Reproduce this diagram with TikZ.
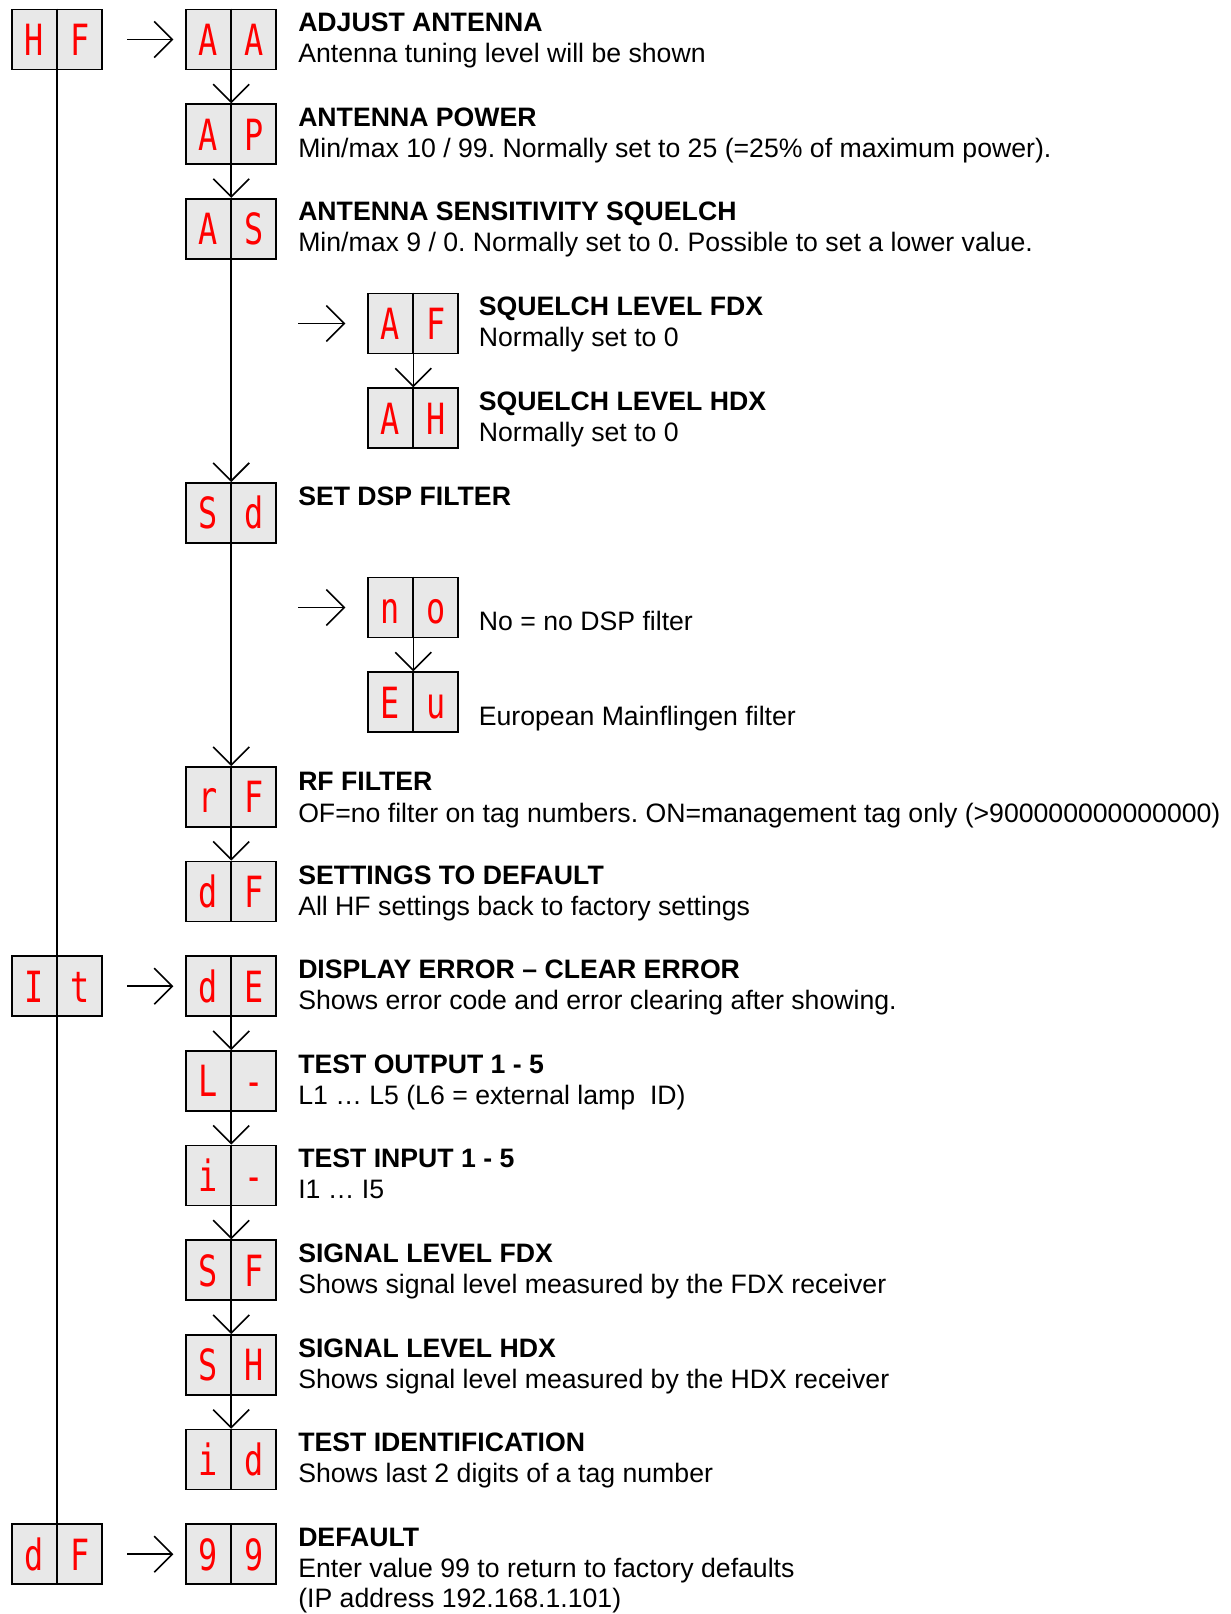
\documentclass[tikz,border=0pt]{standalone}
\usepackage{fontspec}
\setmainfont{Liberation Sans}
\newfontfamily\segfont[FakeStretch=0.74]{DejaVu Sans Mono}
\usetikzlibrary{arrows.meta}
\frenchspacing

\definecolor{boxfill}{RGB}{232,232,232}
\definecolor{segred}{RGB}{255,0,0}

% display box: name, position, left character, right character
\newcommand{\dispbox}[4]{%
  \node[disp] (#1) at (#2) {};
  \draw[divider] (#1.north) -- (#1.south);
  \node[seg] (#1-l) at ([xshift=-22.75pt, yshift=-16pt]#1.center) {#3};
  \node[seg] (#1-r) at ([xshift=22.75pt, yshift=-16pt]#1.center) {#4};
}

\begin{document}
\begin{tikzpicture}[
  x=1pt, y=-1pt,
  font=\fontsize{26.65pt}{31pt}\selectfont,
  disp/.style={draw, fill=boxfill, line width=1.7pt, minimum width=90pt, minimum height=60pt, inner sep=0pt},
  divider/.style={line width=1.7pt},
  seg/.style={anchor=base, inner sep=0pt, text=segred, font=\segfont\fontsize{43pt}{43pt}\selectfont},
  title/.style={anchor=base west, inner sep=0pt, font=\fontsize{26.65pt}{31pt}\selectfont\bfseries},
  desc/.style={anchor=base west, inner sep=0pt},
  arrow/.style={-{Straight Barb[length=18pt, width=36pt]}, line width=1.6pt},
  link/.style={line width=1.6pt}
]
\useasboundingbox (0,0) rectangle (1231,1614);

% left column
\dispbox{hf}{57.2,39.5}{H}{F}
\dispbox{it}{57.2,986.2}{I}{t}
\dispbox{dfl}{57.2,1554.2}{d}{F}

% main column
\dispbox{aa}{231.2,39.5}{A}{A}
\dispbox{ap}{231.2,134.2}{A}{P}
\dispbox{as}{231.2,228.8}{A}{S}
\dispbox{sd}{231.2,512.9}{S}{d}
\dispbox{rf}{231.2,796.9}{r}{F}
\dispbox{df}{231.2,891.5}{d}{F}
\dispbox{de}{231.2,986.2}{d}{E}
\dispbox{lo}{231.2,1080.9}{L}{-}
\dispbox{li}{231.2,1175.5}{i}{-}
\dispbox{sf}{231.2,1270.2}{S}{F}
\dispbox{sh}{231.2,1364.9}{S}{H}
\dispbox{id}{231.2,1459.6}{i}{d}
\dispbox{nn}{231.2,1554.2}{9}{9}

% sub column
\dispbox{af}{413.3,323.5}{A}{F}
\dispbox{ah}{413.3,418.2}{A}{H}
\dispbox{no}{413.3,607.5}{n}{o}
\dispbox{eu}{413.3,702.2}{E}{u}

% left line
\draw[link] (hf.south) -- (it.north);
\draw[link] (it.south) -- (dfl.north);

% horizontal arrows
\draw[arrow] ([xshift=24pt]hf.east) -- ([xshift=-12pt]aa.west);
\draw[arrow] ([xshift=24pt]it.east) -- ([xshift=-12pt]de.west);
\draw[arrow] ([xshift=24pt]dfl.east) -- ([xshift=-12pt]nn.west);
\draw[arrow] ([xshift=-69pt]af.west) -- ([xshift=-22pt]af.west);
\draw[arrow] ([xshift=-69pt]no.west) -- ([xshift=-22pt]no.west);

% vertical arrows
\draw[arrow] (aa.south) -- (ap.north);
\draw[arrow] (ap.south) -- (as.north);
\draw[arrow] (as.south) -- (sd.north);
\draw[arrow] (sd.south) -- (rf.north);
\draw[arrow] (rf.south) -- (df.north);
\draw[arrow] (de.south) -- (lo.north);
\draw[arrow] (lo.south) -- (li.north);
\draw[arrow] (li.south) -- (sf.north);
\draw[arrow] (sf.south) -- (sh.north);
\draw[arrow] (sh.south) -- (id.north);
\draw[arrow] (af.south) -- (ah.north);
\draw[arrow] (no.south) -- (eu.north);

% texts
\node[title] (aa-t) at ([xshift=21pt, yshift=-23pt]aa.north east) {ADJUST ANTENNA};
\node[desc] (aa-d) at ([xshift=21pt, yshift=-54pt]aa.north east) {Antenna tuning level will be shown};
\node[title] (ap-t) at ([xshift=21pt, yshift=-23pt]ap.north east) {ANTENNA POWER};
\node[desc] (ap-d) at ([xshift=21pt, yshift=-54pt]ap.north east) {Min/max 10 / 99. Normally set to 25 (=25\% of maximum power).};
\node[title] (as-t) at ([xshift=21pt, yshift=-23pt]as.north east) {ANTENNA SENSITIVITY SQUELCH};
\node[desc] (as-d) at ([xshift=21pt, yshift=-54pt]as.north east) {Min/max 9 / 0. Normally set to 0. Possible to set a lower value.};
\node[title] (af-t) at ([xshift=19.5pt, yshift=-23pt]af.north east) {SQUELCH LEVEL FDX};
\node[desc] (af-d) at ([xshift=19.5pt, yshift=-54pt]af.north east) {Normally set to 0};
\node[title] (ah-t) at ([xshift=19.5pt, yshift=-23pt]ah.north east) {SQUELCH LEVEL HDX};
\node[desc] (ah-d) at ([xshift=19.5pt, yshift=-54pt]ah.north east) {Normally set to 0};
\node[title] (sd-t) at ([xshift=21pt, yshift=-23pt]sd.north east) {SET DSP FILTER};
\node[desc] (no-d) at ([xshift=19.5pt, yshift=-54pt]no.north east) {No = no DSP filter};
\node[desc] (eu-d) at ([xshift=19.5pt, yshift=-54pt]eu.north east) {European Mainflingen filter};
\node[title] (rf-t) at ([xshift=21pt, yshift=-24pt]rf.north east) {RF FILTER};
\node[desc] (rf-d) at ([xshift=21pt, yshift=-56pt]rf.north east) {OF=no filter on tag numbers. ON=management tag only (>900000000000000)};
\node[title] (df-t) at ([xshift=21pt, yshift=-24pt]df.north east) {SETTINGS TO DEFAULT};
\node[desc] (df-d) at ([xshift=21pt, yshift=-55pt]df.north east) {All HF settings back to factory settings};
\node[title] (de-t) at ([xshift=21pt, yshift=-23pt]de.north east) {DISPLAY ERROR – CLEAR ERROR};
\node[desc] (de-d) at ([xshift=21pt, yshift=-54pt]de.north east) {Shows error code and error clearing after showing.};
\node[title] (lo-t) at ([xshift=21pt, yshift=-23pt]lo.north east) {TEST OUTPUT 1 - 5};
\node[desc] (lo-d) at ([xshift=21pt, yshift=-54pt]lo.north east) {L1 … L5 (L6 = external lamp\ \ ID)};
\node[title] (li-t) at ([xshift=21pt, yshift=-23pt]li.north east) {TEST INPUT 1 - 5};
\node[desc] (li-d) at ([xshift=21pt, yshift=-54pt]li.north east) {I1 … I5};
\node[title] (sf-t) at ([xshift=21pt, yshift=-23pt]sf.north east) {SIGNAL LEVEL FDX};
\node[desc] (sf-d) at ([xshift=21pt, yshift=-54pt]sf.north east) {Shows signal level measured by the FDX receiver};
\node[title] (sh-t) at ([xshift=21pt, yshift=-23pt]sh.north east) {SIGNAL LEVEL HDX};
\node[desc] (sh-d) at ([xshift=21pt, yshift=-54pt]sh.north east) {Shows signal level measured by the HDX receiver};
\node[title] (id-t) at ([xshift=21pt, yshift=-23pt]id.north east) {TEST IDENTIFICATION};
\node[desc] (id-d) at ([xshift=21pt, yshift=-54pt]id.north east) {Shows last 2 digits of a tag number};
\node[title] (nn-t) at ([xshift=21pt, yshift=-23pt]nn.north east) {DEFAULT};
\node[desc] (nn-d) at ([xshift=21pt, yshift=-54pt]nn.north east) {Enter value 99 to return to factory defaults};
\node[desc] (nn-e) at ([xshift=21pt, yshift=-84pt]nn.north east) {(IP address 192.168.1.101)};
\end{tikzpicture}
\end{document}
